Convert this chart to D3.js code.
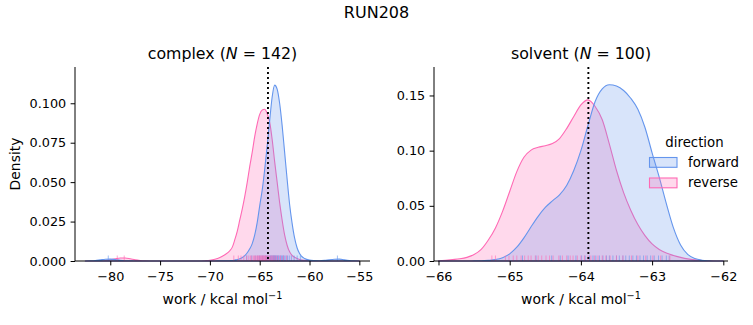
<!DOCTYPE html>
<html>
<head>
<meta charset="utf-8">
<script src="https://cdn.jsdelivr.net/npm/d3@7"></script>
<style>
  body { margin: 0; background: #fff; }
  svg { display: block; }
  text { font-family: "DejaVu Sans", sans-serif; fill: #000; }
</style>
</head>
<body>
<svg id="chart" width="753" height="325"></svg>
<script>
// ---- complex leg: KDE of the work values, sampled on a shared grid ----
const complexWork = [-82.5,-82,-81.5,-81,-80.5,-80,-79.5,-79,-78.5,-78,-77.5,-77,-76.5,-76,-72,-71,
  -70.5,-70,-69.5,-69,-68.5,-68,-67.75,-67.5,-67.25,-67,-66.75,-66.5,-66.25,-66,-65.75,-65.5,-65.25,-65,
  -64.75,-64.5,-64.25,-64,-63.75,-63.5,-63.25,-63,-62.75,-62.5,-62.25,-62,-61.75,-61.5,-61.25,-61,-60.75,
  -60.5,-60,-59.5,-59,-58.5,-58,-57.5,-57,-56.5,-56,-55.5,-55];
const complexForward = [0,0.0001,0.0003,0.0007,0.0011,0.0012,0.0009,0.0005,0.0002,0.0001,0,0,0,0,0,0,
  0,0,0,0.0001,0.0001,0.0002,0.0003,0.0006,0.0009,0.0014,0.0022,0.0034,0.0052,0.0077,0.011,0.0165,0.0245,0.035,
  0.045,0.058,0.073,0.089,0.104,0.1115,0.109,0.100,0.086,0.069,0.052,0.036,0.024,0.0146,0.0084,0.0047,0.0027,
  0.0016,0.0006,0.0003,0.0002,0.0004,0.0008,0.0011,0.0012,0.0007,0.0003,0.0001,0];
const complexReverse = [0,0,0,0.0001,0.0003,0.0008,0.0014,0.0019,0.0019,0.0014,0.0007,0.0003,0.0001,0,0,0,
  0.0002,0.0005,0.0011,0.0022,0.0040,0.0065,0.0088,0.0135,0.019,0.026,0.033,0.041,0.050,0.060,0.069,0.079,0.087,0.093,
  0.0958,0.0962,0.0935,0.088,0.077,0.063,0.050,0.037,0.026,0.0165,0.0100,0.0058,0.0036,0.0024,0.0016,0.0010,0.0006,
  0.0004,0.0001,0,0,0,0,0,0,0,0,0,0];
const complexForwardRug = [-80.2,-66.3,-65.8,-65.45,-65.2,-65.02,-64.87,-64.71,-64.58,-64.43,-64.31,-64.22,-64.09,-63.98,
  -63.91,-63.84,-63.77,-63.69,-63.63,-63.58,-63.52,-63.47,-63.41,-63.36,-63.28,-63.21,-63.14,-63.06,-62.97,-62.88,
  -62.79,-62.7,-62.61,-62.49,-62.36,-62.21,-62.03,-61.82,-61.55,-61.24,-60.92,-57.2];
const complexReverseRug = [-79.3,-78.6,-67.6,-67.15,-66.88,-66.6,-66.32,-66.1,-65.93,-65.79,-65.63,-65.52,-65.41,-65.3,
  -65.21,-65.12,-65.03,-64.94,-64.86,-64.79,-64.71,-64.64,-64.57,-64.49,-64.42,-64.36,-64.27,-64.18,-64.08,-63.99,
  -63.88,-63.79,-63.68,-63.57,-63.46,-63.31,-63.12,-62.91,-62.62,-62.3];
const complexMedian = -64.17;

// ---- solvent leg ----
const solventWork = [-66,-65.9,-65.8,-65.7,-65.6,-65.5,-65.4,-65.3,-65.2,-65.1,-65,-64.9,-64.8,-64.7,-64.6,-64.5,
  -64.4,-64.3,-64.2,-64.1,-64,-63.9,-63.8,-63.7,-63.6,-63.5,-63.4,-63.3,-63.2,-63.1,-63,-62.9,-62.8,-62.7,-62.6,
  -62.5,-62.4,-62.3,-62.2,-62.1,-62];
const solventForward = [0,0,0,0,0,0.0001,0.0002,0.0006,0.0013,0.0030,0.0065,0.0125,0.021,0.031,0.0405,0.0485,
  0.0545,0.060,0.0685,0.082,0.100,0.123,0.1445,0.156,0.1597,0.1585,0.1545,0.1475,0.1375,0.121,0.098,0.076,0.052,0.030,0.0145,
  0.0060,0.0022,0.0007,0.0002,0,0];
const solventReverse = [0.0002,0.0007,0.0013,0.0020,0.0033,0.0058,0.0105,0.019,0.030,0.045,0.063,0.081,0.094,0.1005,0.1030,0.1045,
  0.1065,0.111,0.120,0.131,0.1415,0.1460,0.140,0.128,0.106,0.082,0.062,0.046,0.033,0.023,0.0155,0.0105,0.0072,0.0050,0.0033,
  0.0019,0.0010,0.0004,0.0001,0,0];
const solventForwardRug = [-64.82,-64.63,-64.41,-64.29,-64.18,-64.07,-63.99,-63.94,-63.88,-63.83,-63.79,-63.74,-63.69,
  -63.64,-63.6,-63.55,-63.5,-63.46,-63.41,-63.37,-63.32,-63.27,-63.22,-63.17,-63.12,-63.07,-63.02,-62.97,-62.91,-62.86,-62.8,-62.76];
const solventReverseRug = [-65.25,-65.2,-65.06,-65.01,-64.95,-64.9,-64.84,-64.79,-64.74,-64.7,-64.64,-64.6,-64.55,-64.49,
  -64.44,-64.39,-64.31,-64.26,-64.2,-64.15,-64.11,-64.05,-64.0,-63.95,-63.9,-63.86,-63.81,-63.76,-63.7,-63.65,-63.59,
  -63.5,-63.41,-63.29,-63.2,-63.09,-62.99,-62.88,-62.75];
const solventMedian = -63.895;

// ---- ticks ----
const complexXTicks = [-80,-75,-70,-65,-60,-55];
const complexYTicks = [0,0.025,0.05,0.075,0.1];
const solventXTicks = [-66,-65,-64,-63,-62];
const solventYTicks = [0,0.05,0.1,0.15];

const directions = ["forward", "reverse"];
const colors = { forward: "#6495ED", reverse: "#FF69B4" };

const svg = d3.select("#chart");
const TICK_FS = 12.8, LABEL_FS = 13.9, TITLE_FS = 15.8, LEGEND_FS = 13.3;

svg.append("text").attr("x", 376.5).attr("y", 18.3).attr("text-anchor", "middle")
  .style("font-size", "16px").text("RUN208");

function panel(opt) {
  const x = d3.scaleLinear().domain(opt.xDomain).range([opt.left, opt.right]);
  const y = d3.scaleLinear().domain(opt.yDomain).range([opt.bottom, opt.top]);
  const g = svg.append("g");

  const area = d3.area()
    .x(d => x(d[0])).y0(y(0)).y1(d => y(d[1]))
    .curve(d3.curveMonotoneX);

  // reverse is laid down first so forward sits on top
  [["reverse", opt.rev], ["forward", opt.fwd]].forEach(([k, vals]) => {
    const pts = opt.grid.map((w, i) => [w, vals[i]]);
    g.append("path").datum(pts).attr("d", area)
      .attr("fill", colors[k]).attr("fill-opacity", 0.25)
      .attr("stroke", colors[k]).attr("stroke-width", 1.1)
      .attr("stroke-linejoin", "round");
  });

  // rug ticks
  const rugH = 5.5;
  [["forward", opt.fwdRug], ["reverse", opt.revRug]].forEach(([k, vals]) => {
    g.append("g").selectAll("line").data(vals).join("line")
      .attr("x1", d => x(d)).attr("x2", d => x(d))
      .attr("y1", y(0)).attr("y2", y(0) - rugH)
      .attr("stroke", colors[k]).attr("stroke-opacity", 0.6).attr("stroke-width", 1);
  });

  // median reference line
  g.append("line")
    .attr("x1", x(opt.ref)).attr("x2", x(opt.ref))
    .attr("y1", opt.top).attr("y2", opt.bottom)
    .attr("stroke", "#000").attr("stroke-width", 1.9).attr("stroke-dasharray", "1.9,3.1");

  // axes
  const xAxis = d3.axisBottom(x).tickValues(opt.xTicks).tickSize(4.4).tickPadding(7)
    .tickFormat(d3.format("d"));
  const yAxis = d3.axisLeft(y).tickValues(opt.yTicks).tickSize(4.4).tickPadding(4.4)
    .tickFormat(d3.format(opt.yFmt));
  const gx = g.append("g").attr("transform", `translate(0,${opt.bottom})`).call(xAxis);
  const gy = g.append("g").attr("transform", `translate(${opt.left},0)`).call(yAxis);
  [gx, gy].forEach(a => {
    a.select(".domain").remove();
    a.selectAll("line").attr("stroke", "#000").attr("stroke-width", 1);
    a.selectAll("text").style("font-size", TICK_FS + "px").attr("fill", "#000")
      .style("font-family", "DejaVu Sans");
  });
  g.append("line").attr("x1", opt.left).attr("x2", opt.right)
    .attr("y1", opt.bottom).attr("y2", opt.bottom).attr("stroke", "#000").attr("stroke-width", 1);
  g.append("line").attr("x1", opt.left).attr("x2", opt.left)
    .attr("y1", opt.top).attr("y2", opt.bottom).attr("stroke", "#000").attr("stroke-width", 1);

  // title with italic N
  const cx = (opt.left + opt.right) / 2;
  const t = g.append("text").attr("x", cx).attr("y", 58.5).attr("text-anchor", "middle")
    .style("font-size", TITLE_FS + "px");
  t.append("tspan").text(opt.name + " (");
  t.append("tspan").style("font-style", "italic").text("N");
  t.append("tspan").text(" = " + opt.n + ")");

  // x label with superscript
  const xl = g.append("text").attr("x", cx).attr("y", 304).attr("text-anchor", "middle")
    .style("font-size", LABEL_FS + "px");
  xl.append("tspan").text("work / kcal mol");
  xl.append("tspan").attr("dy", -5.5).style("font-size", "9.7px").text("\u22121");

  if (opt.yLabel) {
    g.append("text").attr("transform", `translate(19.5,${(opt.top + opt.bottom) / 2}) rotate(-90)`)
      .attr("text-anchor", "middle").style("font-size", LABEL_FS + "px").text(opt.yLabel);
  }
}

panel({
  left: 75, right: 370, top: 67, bottom: 261,
  xDomain: [-83.54, -53.93], yDomain: [0, 0.123],
  xTicks: complexXTicks, yTicks: complexYTicks, yFmt: ".3f",
  grid: complexWork, fwd: complexForward, rev: complexReverse,
  fwdRug: complexForwardRug, revRug: complexReverseRug, ref: complexMedian,
  name: "complex", n: 142, yLabel: "Density"
});

panel({
  left: 434, right: 728, top: 67, bottom: 261,
  xDomain: [-66.063, -61.934], yDomain: [0, 0.1758],
  xTicks: solventXTicks, yTicks: solventYTicks, yFmt: ".2f",
  grid: solventWork, fwd: solventForward, rev: solventReverse,
  fwdRug: solventForwardRug, revRug: solventReverseRug, ref: solventMedian,
  name: "solvent", n: 100, yLabel: null
});

// legend
const lg = svg.append("g");
lg.append("text").attr("x", 694.5).attr("y", 146.5).attr("text-anchor", "middle")
  .style("font-size", LEGEND_FS + "px").text("direction");
directions.forEach((k, i) => {
  const yy = 157.5 + i * 20.5;
  lg.append("rect").attr("x", 649.5).attr("y", yy).attr("width", 27.5).attr("height", 9.8)
    .attr("fill", colors[k]).attr("fill-opacity", 0.25)
    .attr("stroke", colors[k]).attr("stroke-width", 1.1);
  lg.append("text").attr("x", 688).attr("y", yy + 9.3).style("font-size", LEGEND_FS + "px").text(k);
});
</script>
</body>
</html>
